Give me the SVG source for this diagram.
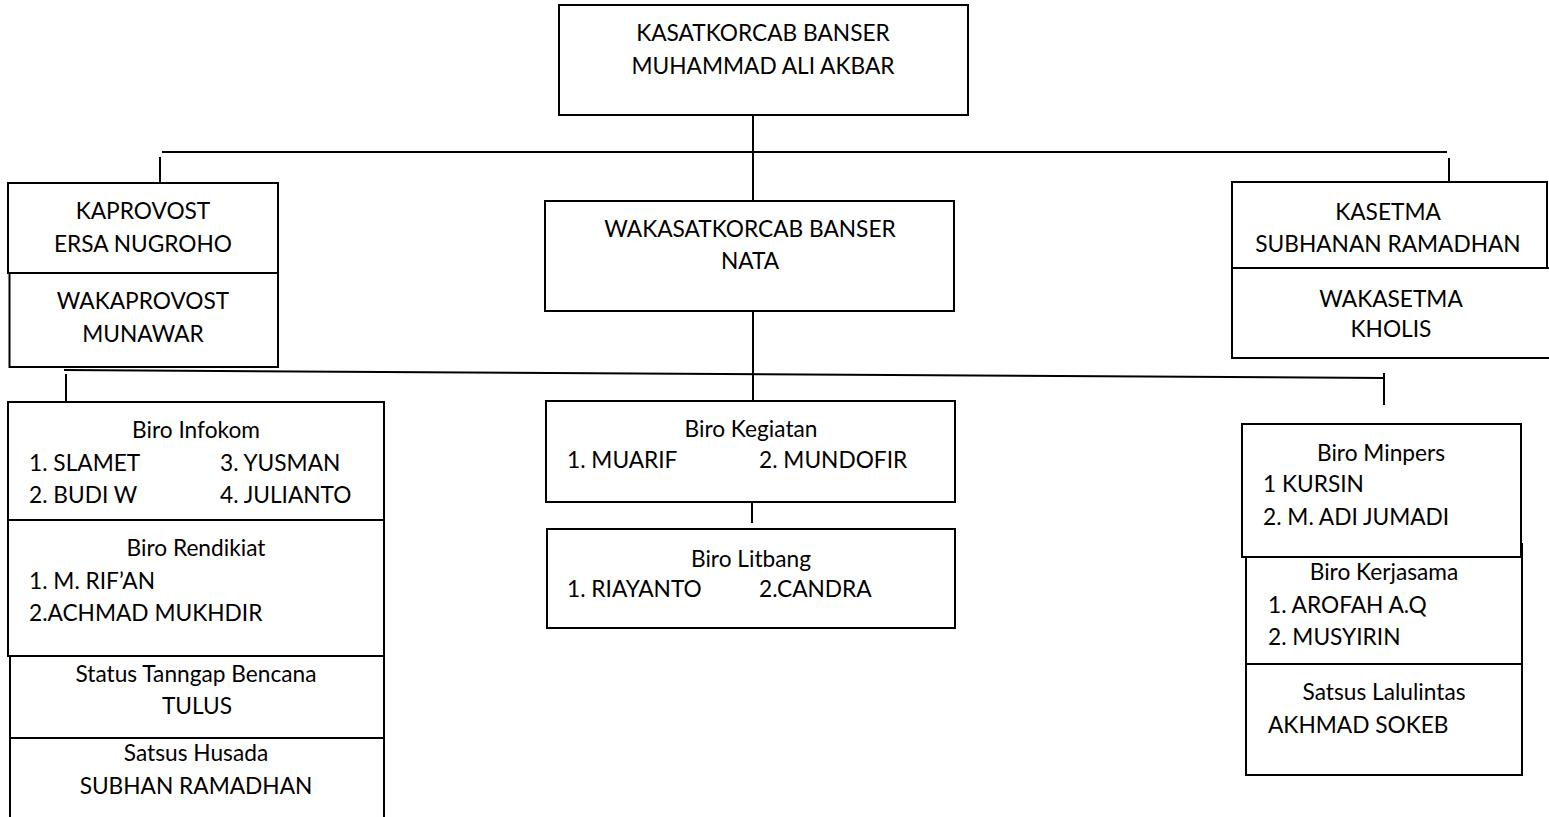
<svg xmlns="http://www.w3.org/2000/svg" width="1549" height="817" viewBox="0 0 1549 817">
<style>
rect, line { fill: none; stroke: #000; stroke-width: 2; }
rect { fill: #fff; }
text { font-family: Lato, "Liberation Sans", sans-serif; font-size: 22.7px; fill: #000; }
.c { text-anchor: middle; }
</style>
<rect x="0" y="0" width="1549" height="817" style="stroke:none"/>
<g id="connectors">
  <line x1="753" y1="115" x2="753" y2="201"/>
  <line x1="162" y1="152" x2="1447" y2="152"/>
  <line x1="160" y1="157" x2="160" y2="183"/>
  <line x1="1449" y1="158" x2="1449" y2="182"/>
  <line x1="753" y1="311" x2="753" y2="401"/>
  <line x1="64" y1="370" x2="1384" y2="378"/>
  <line x1="66" y1="374" x2="66" y2="405"/>
  <line x1="1384" y1="373" x2="1384" y2="405"/>
  <line x1="752" y1="492" x2="752" y2="523"/>
</g>
<g id="kasatkorcab">
  <rect x="559" y="5" width="409" height="110"/>
  <text class="c" x="763" y="41">KASATKORCAB BANSER</text>
  <text class="c" x="763" y="74">MUHAMMAD ALI AKBAR</text>
</g>
<g id="kaprovost">
  <rect x="8" y="183" width="270" height="90"/>
  <text class="c" x="143" y="219">KAPROVOST</text>
  <text class="c" x="143" y="252">ERSA NUGROHO</text>
</g>
<g id="wakaprovost">
  <rect x="9.5" y="273" width="268.5" height="94"/>
  <text class="c" x="143" y="309">WAKAPROVOST</text>
  <text class="c" x="143" y="342">MUNAWAR</text>
</g>
<g id="wakasatkorcab">
  <rect x="545" y="201" width="409" height="110"/>
  <text class="c" x="750" y="237">WAKASATKORCAB BANSER</text>
  <text class="c" x="750" y="269">NATA</text>
</g>
<g id="kasetma">
  <rect x="1232" y="182" width="315" height="86"/>
  <text class="c" x="1388" y="220">KASETMA</text>
  <text class="c" x="1388" y="252">SUBHANAN RAMADHAN</text>
</g>
<g id="wakasetma">
  <rect x="1232" y="268" width="320" height="90"/>
  <text class="c" x="1391" y="307">WAKASETMA</text>
  <text class="c" x="1391" y="337">KHOLIS</text>
</g>
<g id="biro-infokom">
  <rect x="8" y="402" width="376" height="118"/>
  <text class="c" x="196" y="438">Biro Infokom</text>
  <text x="29" y="471">1. SLAMET</text>
  <text x="220" y="471">3. YUSMAN</text>
  <text x="29" y="503">2. BUDI W</text>
  <text x="220" y="503">4. JULIANTO</text>
</g>
<g id="biro-rendikiat">
  <rect x="8" y="520" width="376" height="136"/>
  <text class="c" x="196" y="556">Biro Rendikiat</text>
  <text x="29" y="589">1. M. RIF’AN</text>
  <text x="29" y="621">2.ACHMAD MUKHDIR</text>
</g>
<g id="status-tanggap-bencana">
  <rect x="10" y="656" width="374" height="82"/>
  <text class="c" x="196" y="682">Status Tanngap Bencana</text>
  <text class="c" x="197" y="714">TULUS</text>
</g>
<g id="satsus-husada">
  <rect x="10" y="738" width="374" height="90"/>
  <text class="c" x="196" y="761">Satsus Husada</text>
  <text class="c" x="196" y="794">SUBHAN RAMADHAN</text>
</g>
<g id="biro-kegiatan">
  <rect x="546" y="401" width="409" height="101"/>
  <text class="c" x="751" y="437">Biro Kegiatan</text>
  <text x="567" y="468">1. MUARIF</text>
  <text x="759" y="468">2. MUNDOFIR</text>
</g>
<g id="biro-litbang">
  <rect x="547" y="529" width="408" height="99"/>
  <text class="c" x="751" y="567">Biro Litbang</text>
  <text x="567" y="597">1. RIAYANTO</text>
  <text x="759" y="597">2.CANDRA</text>
</g>
<g id="biro-kerjasama">
  <rect x="1246" y="544" width="276" height="120"/>
  <text class="c" x="1384" y="580">Biro Kerjasama</text>
  <text x="1268" y="613">1. AROFAH A.Q</text>
  <text x="1268" y="645">2. MUSYIRIN</text>
</g>
<g id="biro-minpers">
  <rect x="1242" y="424" width="279" height="133"/>
  <text class="c" x="1381" y="461">Biro Minpers</text>
  <text x="1263" y="492">1 KURSIN</text>
  <text x="1263" y="525">2. M. ADI JUMADI</text>
</g>
<g id="satsus-lalulintas">
  <rect x="1246" y="664" width="276" height="111"/>
  <text class="c" x="1384" y="700">Satsus Lalulintas</text>
  <text x="1268" y="733">AKHMAD SOKEB</text>
</g>
</svg>
